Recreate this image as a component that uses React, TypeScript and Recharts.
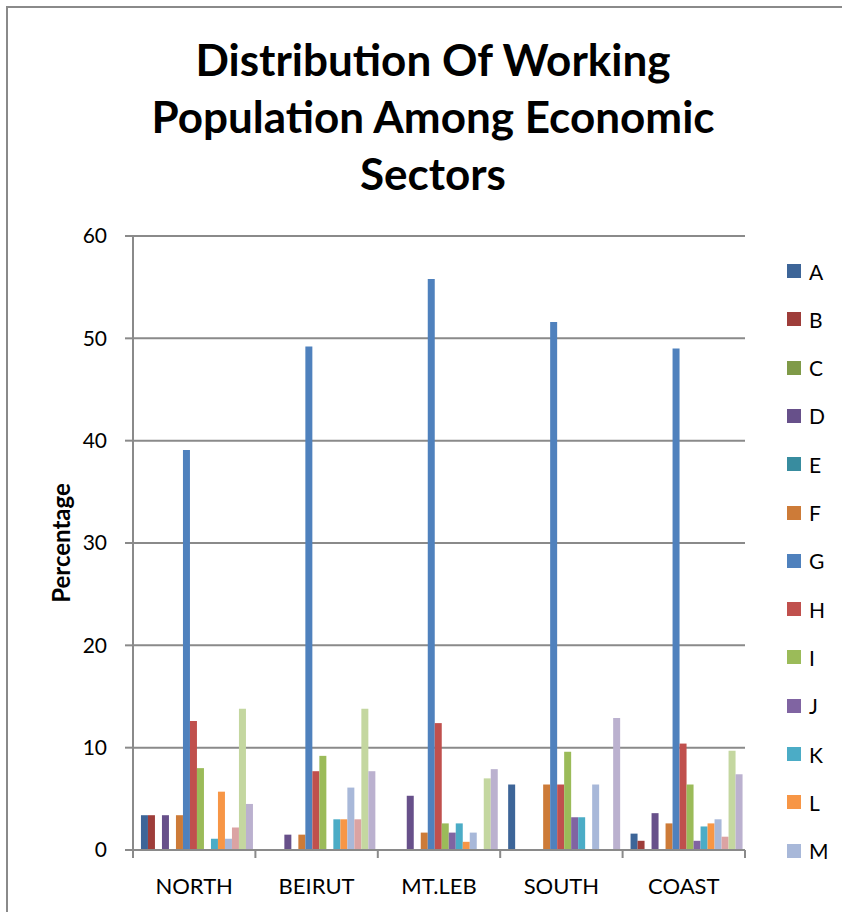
import React from 'react';
import { BarChart, Bar, XAxis, YAxis, CartesianGrid } from 'recharts';

const categories = ['NORTH', 'BEIRUT', 'MT.LEB', 'SOUTH', 'COAST'];
const seriesNames = ['A', 'B', 'C', 'D', 'E', 'F', 'G', 'H', 'I', 'J', 'K', 'L', 'M', 'N', 'O', 'P'];
const legendNames = ['A', 'B', 'C', 'D', 'E', 'F', 'G', 'H', 'I', 'J', 'K', 'L', 'M'];
const yTicks = [0, 10, 20, 30, 40, 50, 60];

const A = [3.4, 0, 0, 6.4, 1.6];
const B = [3.4, 0, 0, 0, 0.9];
const C = [0, 0, 0, 0, 0];
const D = [3.4, 1.5, 5.3, 0, 3.6];
const E = [0, 0, 0, 0, 0];
const F = [3.4, 1.5, 1.7, 6.4, 2.6];
const G = [39.1, 49.2, 55.8, 51.6, 49.0];
const H = [12.6, 7.7, 12.4, 6.4, 10.4];
const I = [8.0, 9.2, 2.6, 9.6, 6.4];
const J = [0, 0, 1.7, 3.2, 0.9];
const K = [1.1, 3.0, 2.6, 3.2, 2.3];
const L = [5.7, 3.0, 0.8, 0, 2.6];
const M = [1.1, 6.1, 1.7, 6.4, 3.0];
const N = [2.2, 3.0, 0, 0, 1.3];
const O = [13.8, 13.8, 7.0, 0, 9.7];
const P = [4.5, 7.7, 7.9, 12.9, 7.4];

const seriesValues = [A, B, C, D, E, F, G, H, I, J, K, L, M, N, O, P];

const colors = [
  '#3D6598', '#9E3D3A', '#7F9A48', '#67508A', '#388C9F', '#CD7B38', '#4F81BD', '#C0504D',
  '#9BBB59', '#8064A2', '#4BACC6', '#F79646', '#A8B8D9', '#DBA3A3', '#C4D7A0', '#BBB1CF',
];

const data = categories.map((cat, i) => {
  const row: Record<string, string | number> = { cat };
  seriesNames.forEach((s, j) => {
    row[s] = seriesValues[j][i];
  });
  return row;
});

const FONT = 'Lato, "Liberation Sans", sans-serif';
const AXIS = '#8A8A8A';
const PLOT_LEFT = 133;
const PLOT_RIGHT = 745;
const HALF_BAND = (PLOT_RIGHT - PLOT_LEFT) / categories.length / 2;

const XTick = (props: any) => {
  const { x, y, payload, index } = props;
  return (
    <g>
      <line x1={x - HALF_BAND} x2={x - HALF_BAND} y1={y} y2={y + 8} stroke={AXIS} strokeWidth={2} />
      {index === categories.length - 1 && (
        <line x1={x + HALF_BAND} x2={x + HALF_BAND} y1={y} y2={y + 8} stroke={AXIS} strokeWidth={2} />
      )}
      <text x={x} y={y + 35} textAnchor="middle" dominantBaseline="central" fontFamily={FONT} fontSize={22} fill="#000">
        {payload.value}
      </text>
    </g>
  );
};

const LegendBox = () => (
  <div style={{ position: 'absolute', left: 787, top: 262, width: 60, height: 600 }}>
    {legendNames.map((name, i) => (
      <div
        key={name}
        style={{
          position: 'absolute',
          left: 0,
          top: i * 48.3,
          height: 18,
          display: 'flex',
          alignItems: 'center',
          fontFamily: FONT,
          fontSize: 21,
          color: '#000',
        }}
      >
        <span style={{ display: 'inline-block', width: 14, height: 14, background: colors[i], marginRight: 8 }} />
        <span>{name}</span>
      </div>
    ))}
  </div>
);

export default function App() {
  return (
    <div style={{ position: 'absolute', left: 0, top: 0, width: 848, height: 912, background: '#fff', overflow: 'hidden' }}>
      <div style={{ position: 'absolute', left: 6, top: 6, width: 834, height: 920, borderLeft: '2px solid #8A8A8A', borderTop: '2px solid #8A8A8A' }} />
      <div
        style={{
          position: 'absolute',
          left: 133,
          width: 600,
          top: 31,
          textAlign: 'center',
          fontFamily: FONT,
          fontWeight: 700,
          fontSize: 44,
          lineHeight: '57px',
          color: '#000',
        }}
      >
        Distribution Of Working
        <br />
        Population Among Economic
        <br />
        Sectors
      </div>
      <div
        style={{
          position: 'absolute',
          left: 60,
          top: 543,
          transform: 'translate(-50%, -50%) rotate(-90deg)',
          fontFamily: FONT,
          fontWeight: 700,
          fontSize: 24,
          whiteSpace: 'nowrap',
          color: '#000',
        }}
      >
        Percentage
      </div>
      <div style={{ position: 'absolute', left: 0, top: 0 }}>
        <BarChart
          width={848}
          height={912}
          data={data}
          margin={{ top: 236, right: 848 - PLOT_RIGHT, bottom: 22, left: PLOT_LEFT - 60 }}
          barGap={0}
          barCategoryGap="6.5%"
        >
          <CartesianGrid vertical={false} stroke={AXIS} strokeWidth={2} />
          <XAxis
            dataKey="cat"
            height={40}
            axisLine={{ stroke: AXIS, strokeWidth: 2 }}
            tickLine={false}
            tickSize={0}
            tickMargin={0}
            tick={<XTick />}
            interval={0}
          />
          <YAxis
            width={60}
            domain={[0, 60]}
            ticks={yTicks}
            interval={0}
            axisLine={{ stroke: AXIS, strokeWidth: 2 }}
            tickLine={{ stroke: AXIS, strokeWidth: 2 }}
            tickSize={8}
            tickMargin={18}
            tick={{ fontFamily: FONT, fontSize: 21, fill: '#000' }}
          />
          {seriesNames.map((s, j) => (
            <Bar key={s} dataKey={s} fill={colors[j]} isAnimationActive={false} />
          ))}
        </BarChart>
      </div>
      <LegendBox />
    </div>
  );
}
